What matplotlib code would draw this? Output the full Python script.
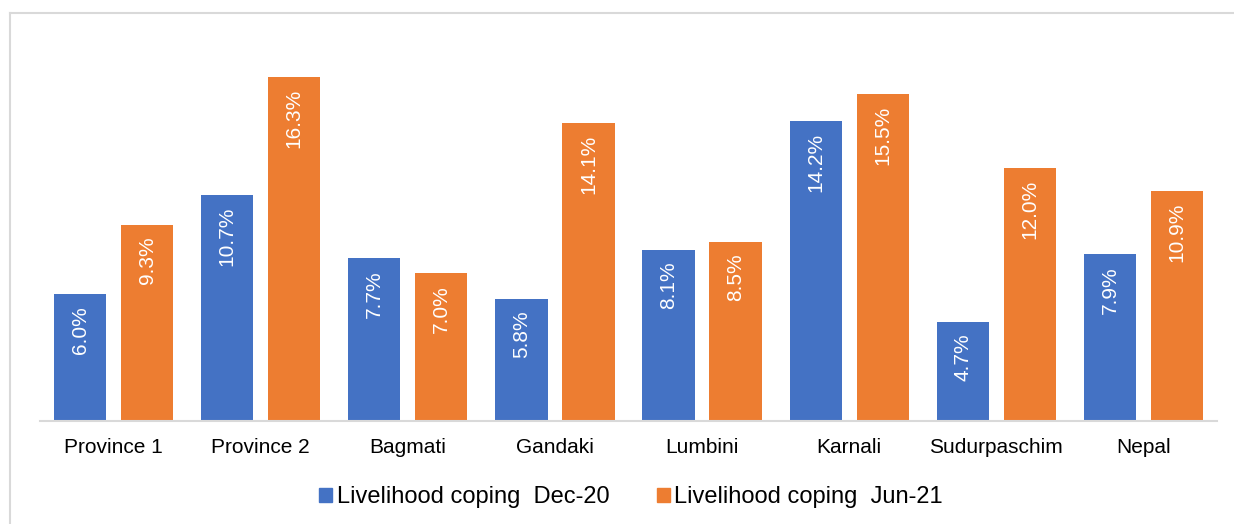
import matplotlib
matplotlib.use("Agg")
import matplotlib.pyplot as plt
import numpy as np
from matplotlib.lines import Line2D
from matplotlib.patches import Patch

plt.rcParams['font.family'] = ['Liberation Sans', 'DejaVu Sans']

regions = ["Province 1", "Province 2", "Bagmati", "Gandaki", "Lumbini",
           "Karnali", "Sudurpaschim", "Nepal"]
dec20 = [6.0, 10.7, 7.7, 5.8, 8.1, 14.2, 4.7, 7.9]
jun21 = [9.3, 16.3, 7.0, 14.1, 8.5, 15.5, 12.0, 10.9]
series_names = ["Livelihood coping  Dec-20", "Livelihood coping  Jun-21"]
colors = ["#4472C4", "#ED7D31"]

fig = plt.figure(figsize=(12.34, 5.24), dpi=100)
ax = fig.add_axes([40 / 1234, 1 - 421 / 524, 1177 / 1234, 380 / 524])

x = np.arange(len(regions))
w = 0.355
off = 0.228
for vals, sign, c in [(dec20, -1, colors[0]), (jun21, 1, colors[1])]:
    bars = ax.bar(x + sign * off, vals, w, color=c)
    for b, v in zip(bars, vals):
        ax.annotate(f"{v:.1f}%", (b.get_x() + b.get_width() / 2, v),
                    xytext=(0, -8.5), textcoords="offset points",
                    rotation=90, ha="center", va="top", color="white",
                    fontsize=15)

ax.set_xlim(-0.5, len(regions) - 0.5)
ax.set_ylim(0, 18)
ax.set_yticks([])
for s in ["top", "right", "left"]:
    ax.spines[s].set_visible(False)
ax.spines["bottom"].set_color("#D9D9D9")
ax.spines["bottom"].set_linewidth(1.5)
ax.set_xticks(x)
ax.set_xticklabels(regions, fontsize=15)
ax.tick_params(axis="x", length=0, pad=12)

handles = [Patch(color=c, label=n) for c, n in zip(colors, series_names)]
fig.legend(handles=handles, loc="center", bbox_to_anchor=(631 / 1234, 1 - 497 / 524),
           ncol=2, frameon=False, fontsize=17, handlelength=0.55, handleheight=0.55,
           handletextpad=0.2, columnspacing=2.0, borderpad=0)

# chart border (top and left edges visible in crop)
fig.add_artist(Line2D([10 / 1234, 1], [1 - 13 / 524, 1 - 13 / 524], color="#D9D9D9", lw=1.5))
fig.add_artist(Line2D([10 / 1234, 10 / 1234], [0, 1 - 13 / 524], color="#D9D9D9", lw=1.5))

fig.savefig("out.png", dpi=100)
